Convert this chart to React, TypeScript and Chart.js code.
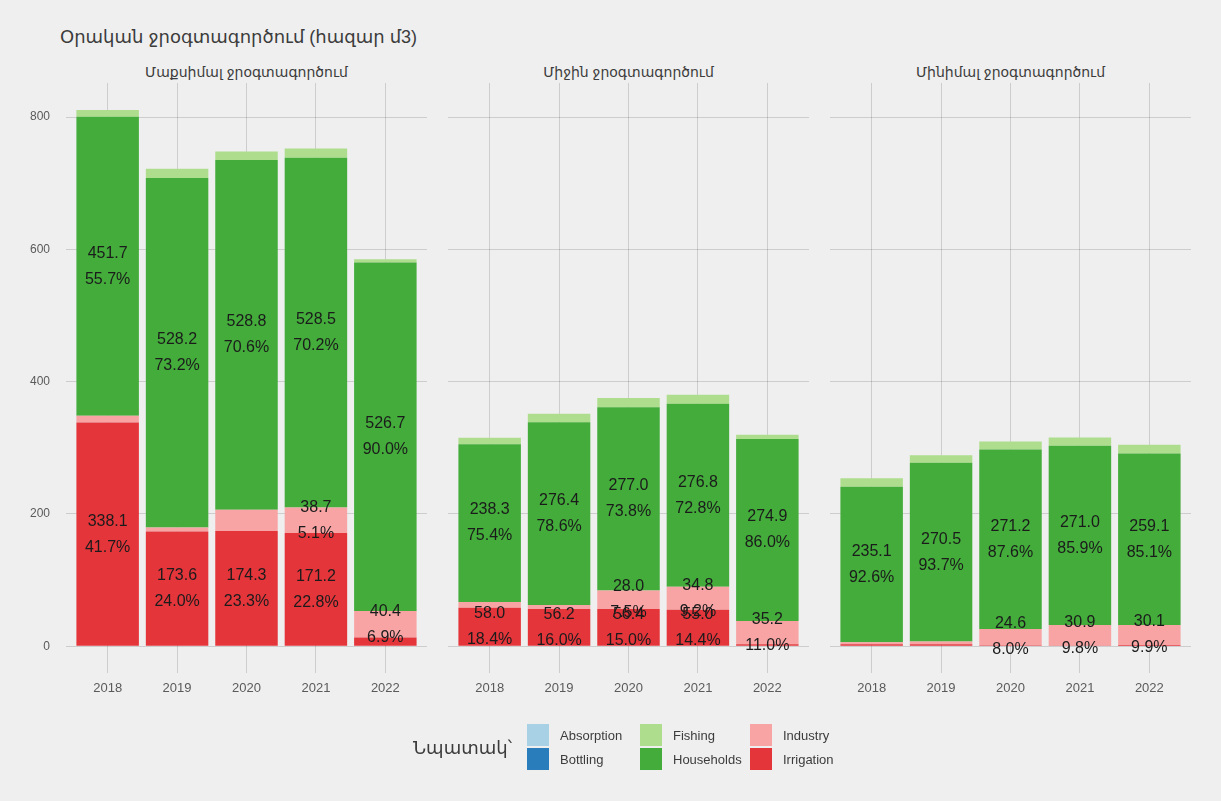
import React, { useEffect, useRef } from "react";
import { Chart, registerables } from "chart.js";

Chart.register(...registerables);

// ---------- data ----------
const years = ["2018", "2019", "2020", "2021", "2022"];
const seriesNames = ["Irrigation", "Industry", "Households", "Fishing", "Bottling", "Absorption"];
const seriesColors = ["#E4353B", "#F8A4A5", "#43AC3B", "#AEDE8D", "#2A7DBB", "#A9D1E6"];
const legendOrder = ["Absorption", "Bottling", "Fishing", "Households", "Industry", "Irrigation"];
const yTicks = [0, 200, 400, 600, 800];

const panelTitles = ["Մաքսիմալ ջրօգտագործում", "Միջին ջրօգտագործում", "Մինիմալ ջրօգտագործում"];

// Maximum
const maxIrrigation = [338.1, 173.6, 174.3, 171.2, 13];
const maxIndustry = [10.5, 6, 32, 38.7, 40.4];
const maxHouseholds = [451.7, 528.2, 528.8, 528.5, 526.7];
const maxFishing = [10.5, 14, 13, 14, 5.1];
const maxBottling = [0, 0, 0, 0, 0];
const maxAbsorption = [0, 0, 0, 0, 0];
const maxIrrigationPct = [41.7, 24.0, 23.3, 22.8, null];
const maxIndustryPct = [null, null, null, 5.1, 6.9];
const maxHouseholdsPct = [55.7, 73.2, 70.6, 70.2, 90.0];

// Average
const avgIrrigation = [58.0, 56.2, 56.4, 55.0, 3];
const avgIndustry = [9, 6, 28.0, 34.8, 35.2];
const avgHouseholds = [238.3, 276.4, 277.0, 276.8, 274.9];
const avgFishing = [10, 13, 14, 13.6, 6.5];
const avgBottling = [0, 0, 0, 0, 0];
const avgAbsorption = [0, 0, 0, 0, 0];
const avgIrrigationPct = [18.4, 16.0, 15.0, 14.4, null];
const avgIndustryPct = [null, null, 7.5, 9.2, 11.0];
const avgHouseholdsPct = [75.4, 78.6, 73.8, 72.8, 86.0];

// Minimum
const minIrrigation = [3, 3, 1.5, 1, 2];
const minIndustry = [3, 4, 24.6, 30.9, 30.1];
const minHouseholds = [235.1, 270.5, 271.2, 271.0, 259.1];
const minFishing = [12.8, 11.2, 12.3, 12.6, 13.3];
const minBottling = [0, 0, 0, 0, 0];
const minAbsorption = [0, 0, 0, 0, 0];
const minIrrigationPct = [null, null, null, null, null];
const minIndustryPct = [null, null, 8.0, 9.8, 9.9];
const minHouseholdsPct = [92.6, 93.7, 87.6, 85.9, 85.1];

const panelSeries = [
  [maxIrrigation, maxIndustry, maxHouseholds, maxFishing, maxBottling, maxAbsorption],
  [avgIrrigation, avgIndustry, avgHouseholds, avgFishing, avgBottling, avgAbsorption],
  [minIrrigation, minIndustry, minHouseholds, minFishing, minBottling, minAbsorption],
];
const panelPcts = [
  [maxIrrigationPct, maxIndustryPct, maxHouseholdsPct, null, null, null],
  [avgIrrigationPct, avgIndustryPct, avgHouseholdsPct, null, null, null],
  [minIrrigationPct, minIndustryPct, minHouseholdsPct, null, null, null],
];

// y range with ggplot-like 5% expansion of [0, max total]
const Y_MIN = -40.5;
const Y_MAX = 851.5;

const FONT = "'Liberation Sans', 'DejaVu Sans', Arial, sans-serif";
const GRID = "rgba(0,0,0,0.14)";

// ---------- layout ----------
const W = 1221;
const H = 801;
const PANEL_TOP = 83;
const PANEL_BOTTOM = 673;
const X_AXIS_H = 40;
const Y_AXIS_W = 66;
const PANEL_W = 361;
const panelLefts = [66, 448, 830];

function Panel({ index }: { index: number }) {
  const ref = useRef<HTMLCanvasElement | null>(null);
  const showY = index === 0;
  const canvasLeft = showY ? 0 : panelLefts[index];
  const canvasW = showY ? Y_AXIS_W + PANEL_W : PANEL_W;

  useEffect(() => {
    if (!ref.current) return;
    const series = panelSeries[index];
    const pcts = panelPcts[index];

    const labelPlugin = {
      id: "segLabels" + index,
      afterDatasetsDraw(chart: any) {
        const ctx = chart.ctx;
        ctx.save();
        ctx.font = `16px ${FONT}`;
        ctx.fillStyle = "#1b1b1b";
        ctx.textAlign = "center";
        ctx.textBaseline = "middle";
        chart.data.datasets.forEach((ds: any, di: number) => {
          const p = pcts[di];
          if (!p) return;
          const meta = chart.getDatasetMeta(di);
          meta.data.forEach((el: any, i: number) => {
            if (p[i] == null) return;
            const v = ds.data[i].y as number;
            const cy = (el.y + el.base) / 2;
            ctx.fillText(v.toFixed(1), el.x, cy - 13);
            ctx.fillText((p[i] as number).toFixed(1) + "%", el.x, cy + 13);
          });
        });
        ctx.restore();
      },
    };

    const chart = new Chart(ref.current, {
      type: "bar",
      data: {
        datasets: seriesNames.map((name, si) => ({
          label: name,
          data: series[si].map((v, i) => ({ x: i + 1, y: v })),
          backgroundColor: seriesColors[si],
          borderWidth: 0,
          categoryPercentage: 1,
          barPercentage: 0.9,
        })),
      },
      options: {
        responsive: false,
        animation: false,
        events: [],
        layout: {
          padding: {
            top: PANEL_TOP,
            bottom: H - PANEL_BOTTOM - X_AXIS_H,
            left: 0,
            right: 0,
          },
        },
        plugins: {
          legend: { display: false },
          tooltip: { enabled: false },
          title: { display: false },
        },
        scales: {
          x: {
            type: "linear",
            min: 0.4,
            max: 5.6,
            offset: false,
            stacked: true,
            afterBuildTicks: (axis: any) => {
              axis.ticks = years.map((_, i) => ({ value: i + 1 }));
            },
            afterFit: (axis: any) => {
              axis.height = X_AXIS_H;
            },
            ticks: {
              autoSkip: false,
              maxRotation: 0,
              padding: 8,
              color: "#5a5a5a",
              font: { family: FONT, size: 13 },
              callback: (v: any) => years[Math.round(Number(v)) - 1] ?? "",
            },
            grid: { color: GRID, lineWidth: 1, drawTicks: false, offset: false },
            border: { display: false },
          },
          y: {
            type: "linear",
            min: Y_MIN,
            max: Y_MAX,
            stacked: true,
            afterBuildTicks: (axis: any) => {
              axis.ticks = yTicks.map((v) => ({ value: v }));
            },
            afterFit: (axis: any) => {
              axis.width = showY ? Y_AXIS_W : 0;
            },
            ticks: {
              display: showY,
              padding: 16,
              color: "#5a5a5a",
              font: { family: FONT, size: 12 },
            },
            grid: { color: GRID, lineWidth: 1, drawTicks: false },
            border: { display: false },
          },
        },
      } as any,
      plugins: [labelPlugin as any],
    });
    return () => chart.destroy();
  }, [index]);

  return (
    <canvas
      ref={ref}
      width={canvasW}
      height={H}
      style={{ position: "absolute", left: canvasLeft, top: 0, width: canvasW, height: H }}
    />
  );
}

export default function App() {
  const legendCols = [
    [legendOrder[0], legendOrder[1]],
    [legendOrder[2], legendOrder[3]],
    [legendOrder[4], legendOrder[5]],
  ];
  const colLefts = [527, 640, 750];
  const colorOf = (name: string) => seriesColors[seriesNames.indexOf(name)];

  return (
    <div
      style={{
        position: "absolute",
        left: 0,
        top: 0,
        width: W,
        height: H,
        background: "#EFEFEF",
        overflow: "hidden",
        fontFamily: FONT,
      }}
    >
      <div
        style={{
          position: "absolute",
          left: 60,
          top: 25,
          fontSize: 18,
          color: "#3c3c3c",
          whiteSpace: "nowrap",
          lineHeight: "24px",
        }}
      >
        Օրական ջրօգտագործում (հազար մ3)
      </div>
      {panelTitles.map((t, i) => (
        <div
          key={t}
          style={{
            position: "absolute",
            left: panelLefts[i],
            width: PANEL_W,
            top: 62,
            textAlign: "center",
            fontSize: 14,
            color: "#3c3c3c",
            whiteSpace: "nowrap",
            lineHeight: "20px",
          }}
        >
          {t}
        </div>
      ))}
      <Panel index={0} />
      <Panel index={1} />
      <Panel index={2} />
      <div
        style={{
          position: "absolute",
          left: 413,
          top: 735,
          fontSize: 18,
          color: "#3c3c3c",
          lineHeight: "26px",
          whiteSpace: "nowrap",
        }}
      >
        Նպատակ՝
      </div>
      {legendCols.map((col, ci) =>
        col.map((name, ri) => (
          <div
            key={name}
            style={{
              position: "absolute",
              left: colLefts[ci],
              top: 724 + ri * 24,
              height: 22,
              display: "flex",
              alignItems: "center",
              whiteSpace: "nowrap",
            }}
          >
            <div style={{ width: 22, height: 22, background: colorOf(name) }} />
            <div style={{ marginLeft: 11, fontSize: 13, color: "#3c3c3c" }}>{name}</div>
          </div>
        ))
      )}
    </div>
  );
}
